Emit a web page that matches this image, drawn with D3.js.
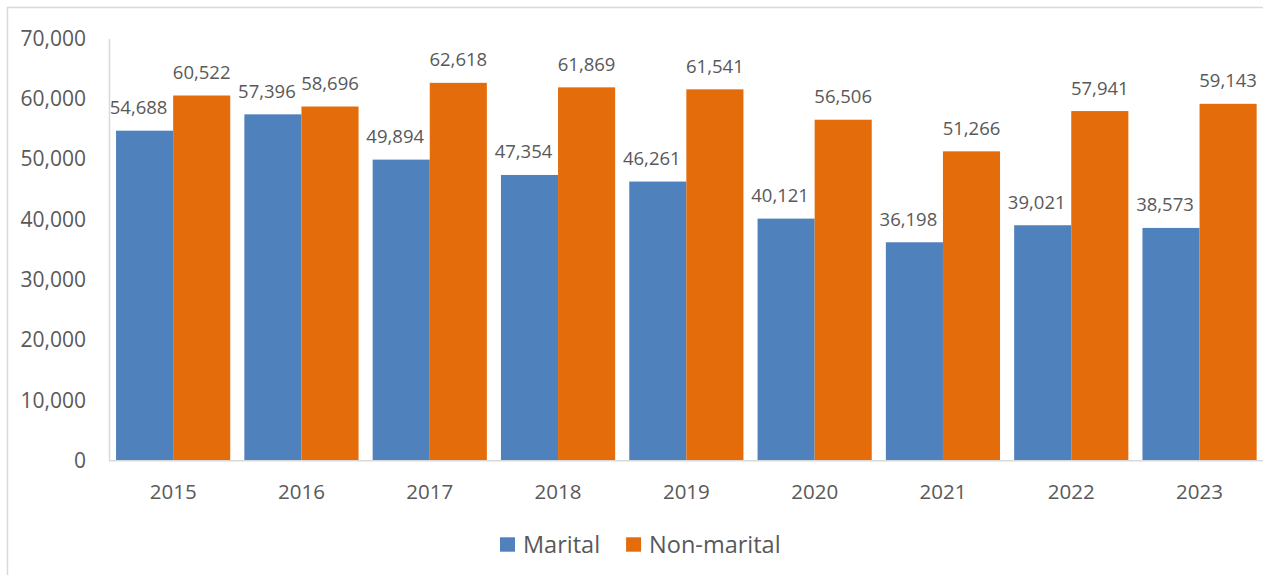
<!DOCTYPE html>
<html>
<head>
<meta charset="utf-8">
<script src="https://cdn.jsdelivr.net/npm/d3@7"></script>
<style>
  body { margin: 0; background: #fff; }
  svg { display: block; font-family: "Open Sans", sans-serif; }
</style>
</head>
<body>
<div id="chart"></div>
<script>
const years = ["2015", "2016", "2017", "2018", "2019", "2020", "2021", "2022", "2023"];
const marital = [54688, 57396, 49894, 47354, 46261, 40121, 36198, 39021, 38573];
const nonMarital = [60522, 58696, 62618, 61869, 61541, 56506, 51266, 57941, 59143];
const seriesNames = ["Marital", "Non-marital"];
const yTicks = [0, 10000, 20000, 30000, 40000, 50000, 60000, 70000];

const width = 1263;
const height = 575;
const colors = ["#4F81BD", "#E46C0A"];
const textColor = "#595959";
const lineColor = "#D9D9D9";

const rows = years.map((y, i) => ({ year: y, values: [marital[i], nonMarital[i]] }));

const svg = d3.select("#chart")
    .append("svg")
    .attr("width", width)
    .attr("height", height);

// chart area border (runs off the right/bottom edge)
svg.append("rect")
    .attr("x", 7.5)
    .attr("y", 7.5)
    .attr("width", 1300)
    .attr("height", 600)
    .attr("fill", "none")
    .attr("stroke", lineColor)
    .attr("stroke-width", 1.5);

const x = d3.scaleBand()
    .domain(years)
    .range([109, 1263.7])
    .paddingInner(0.11)
    .paddingOuter(0.055);

const xSub = d3.scaleBand()
    .domain([0, 1])
    .range([0, x.bandwidth()]);

const y = d3.scaleLinear()
    .domain([0, 70000])
    .range([460.7, 38.3]);

const fmt = d3.format(",");

// y axis
const yAxis = svg.append("g")
    .attr("transform", "translate(109,0)")
    .call(d3.axisLeft(y).tickValues(yTicks).tickFormat(fmt).tickSize(0).tickPadding(23));
yAxis.select(".domain").attr("stroke", lineColor).attr("stroke-width", 1.5);
yAxis.selectAll("text")
    .attr("fill", textColor)
    .style("font-size", "21px")
    .style("font-family", "'Open Sans', sans-serif");

// bars
const groups = svg.selectAll(".group")
    .data(rows)
    .enter().append("g")
    .attr("class", "group")
    .attr("transform", d => `translate(${x(d.year)},0)`);

groups.selectAll("rect")
    .data(d => d.values.map((v, i) => ({ v, i })))
    .enter().append("rect")
    .attr("x", d => xSub(d.i))
    .attr("y", d => y(d.v))
    .attr("width", xSub.bandwidth())
    .attr("height", d => y(0) - y(d.v))
    .attr("fill", d => colors[d.i]);

groups.selectAll(".lbl")
    .data(d => d.values.map((v, i) => ({ v, i })))
    .enter().append("text")
    .attr("class", "lbl")
    .attr("x", d => xSub(d.i) + xSub.bandwidth() / 2 + (d.i === 0 ? -6 : 0))
    .attr("y", d => y(d.v) - 16.5)
    .attr("text-anchor", "middle")
    .attr("fill", textColor)
    .style("font-size", "18.5px")
    .text(d => fmt(d.v));

// x axis
const xAxis = svg.append("g")
    .attr("transform", `translate(0,${y(0)})`)
    .call(d3.axisBottom(x).tickSize(0).tickPadding(24));
xAxis.select(".domain")
    .attr("d", `M109,0H${width}`)
    .attr("stroke", lineColor)
    .attr("stroke-width", 1.5);
xAxis.selectAll("text")
    .attr("fill", textColor)
    .style("font-size", "20.5px")
    .style("font-family", "'Open Sans', sans-serif");

// legend
const legend = svg.append("g");
let lx = 0;
seriesNames.forEach((name, i) => {
    legend.append("rect")
        .attr("x", lx)
        .attr("y", 537.3)
        .attr("width", 15)
        .attr("height", 14.4)
        .attr("fill", colors[i]);
    const t = legend.append("text")
        .attr("x", lx + 23)
        .attr("y", 552.7)
        .attr("fill", textColor)
        .style("font-size", "23.5px")
        .text(name);
    lx += 23 + t.node().getComputedTextLength() + 26;
});
const legendWidth = lx - 26;
legend.attr("transform", `translate(${640.3 - legendWidth / 2},0)`);
</script>
</body>
</html>
